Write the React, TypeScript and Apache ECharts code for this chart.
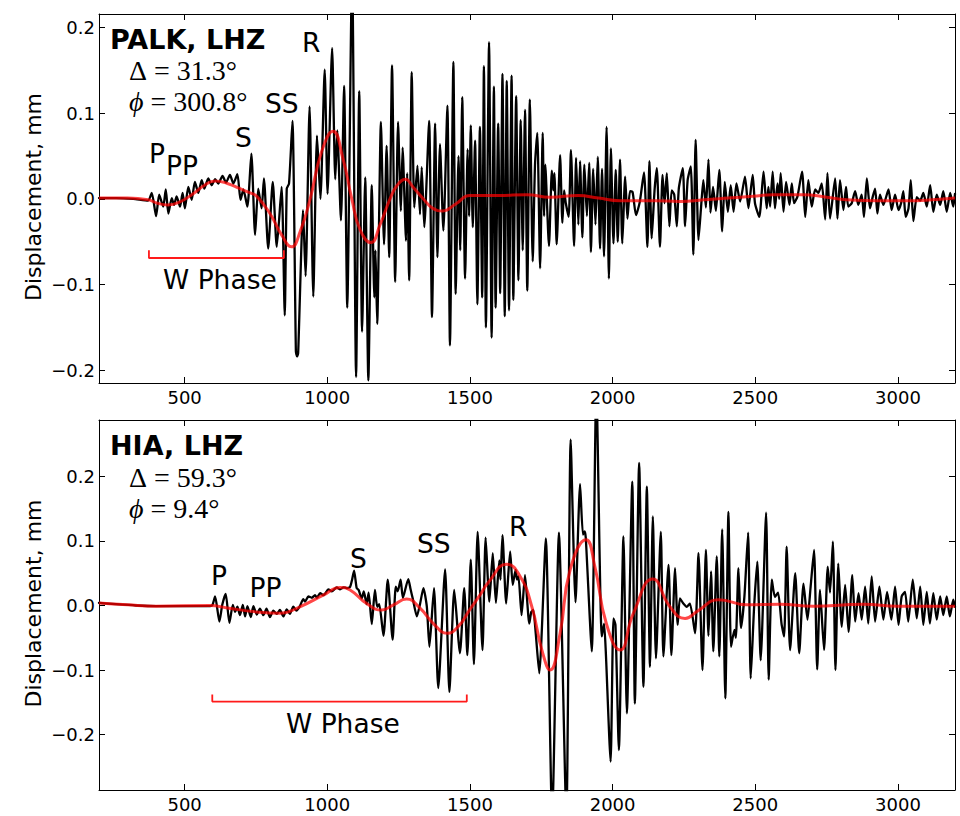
import React, { useEffect, useRef } from 'react';
import * as echarts from 'echarts';

const xTicks = [500, 1000, 1500, 2000, 2500, 3000];
const yTicks = [-0.2, -0.1, 0, 0.1, 0.2];

// PALK, LHZ : broadband displacement (time s, mm)
const palkTrace: [number, number][] = [
  [200,0.001],[260,0.001],[320,0.000],[372,-0.002],[385,0.007],[400,-0.020],[411,0.005],[425,-0.009],[434,0.011],[443,-0.017],[455,0.001],[463,-0.007],[472,0.003],[484,-0.009],[493,0.007],[501,-0.011],[513,0.014],[525,-0.001],[536,0.020],[548,0.007],[560,0.022],[569,0.012],[583,0.024],[595,0.016],[607,0.023],[618,0.018],[633,0.027],[645,0.019],[659,0.028],[671,0.018],[685,0.029],[696,-0.001],[706,0.011],[720,-0.009],[734,0.053],[747,-0.042],[758,0.012],[770,-0.011],[778,0.024],[793,-0.058],[809,0.020],[823,-0.056],[840,0.014],[851,-0.136],[858,0.012],[866,0.018],[878,0.091],[890,-0.178],[894,-0.184],[898,-0.180],[915,-0.013],[924,-0.090],[938,0.108],[951,-0.114],[964,0.074],[976,0.000],[991,0.151],[1001,0.006],[1017,0.176],[1028,0.023],[1035,0.080],[1048,-0.025],[1059,0.132],[1070,-0.127],[1087,0.270],[1101,-0.208],[1112,0.126],[1122,-0.155],[1133,0.025],[1144,-0.212],[1156,0.016],[1165,-0.115],[1169,-0.060],[1175,-0.146],[1188,0.090],[1199,-0.053],[1208,0.062],[1217,-0.068],[1227,0.156],[1238,-0.097],[1248,0.090],[1258,-0.014],[1264,0.060],[1276,-0.049],[1280,0.030],[1287,-0.095],[1296,0.148],[1305,-0.010],[1316,0.039],[1325,-0.018],[1331,0.037],[1340,-0.033],[1357,0.091],[1367,-0.138],[1378,0.088],[1386,-0.068],[1395,0.064],[1407,-0.037],[1421,0.109],[1430,-0.171],[1442,0.160],[1450,-0.111],[1460,0.050],[1466,-0.060],[1473,0.119],[1483,-0.093],[1492,0.058],[1497,-0.020],[1503,0.086],[1510,-0.033],[1518,0.068],[1526,-0.123],[1535,0.084],[1543,-0.115],[1549,0.155],[1556,-0.150],[1567,0.183],[1576,-0.162],[1584,0.131],[1590,-0.127],[1599,0.088],[1606,-0.110],[1614,0.146],[1622,-0.137],[1629,0.138],[1637,-0.130],[1646,0.144],[1652,-0.118],[1662,0.120],[1670,-0.095],[1678,0.092],[1685,-0.060],[1693,0.104],[1701,-0.107],[1710,0.116],[1720,-0.073],[1728,0.040],[1736,0.077],[1746,-0.081],[1755,0.077],[1760,-0.020],[1764,0.040],[1777,-0.055],[1787,0.033],[1792,0.010],[1796,0.030],[1804,-0.053],[1816,0.051],[1824,-0.028],[1830,0.010],[1836,-0.005],[1846,-0.021],[1854,0.057],[1865,-0.055],[1872,0.048],[1880,-0.030],[1886,0.044],[1894,-0.045],[1901,0.040],[1910,-0.020],[1918,0.042],[1924,-0.062],[1932,0.035],[1940,-0.030],[1948,0.049],[1956,-0.058],[1963,0.035],[1970,-0.067],[1979,0.084],[1987,-0.093],[1994,0.059],[2003,-0.052],[2011,0.034],[2018,-0.050],[2026,0.046],[2034,-0.052],[2044,0.026],[2052,-0.023],[2061,0.009],[2070,0.008],[2082,-0.019],[2095,-0.004],[2110,0.031],[2122,-0.056],[2129,0.044],[2137,-0.046],[2147,0.010],[2155,0.036],[2166,-0.056],[2175,0.028],[2182,-0.005],[2190,0.030],[2199,-0.032],[2207,0.010],[2216,0.005],[2225,-0.032],[2232,0.012],[2246,0.036],[2254,-0.032],[2263,0.022],[2274,0.038],[2283,-0.065],[2291,0.069],[2301,-0.048],[2310,-0.010],[2318,0.022],[2327,-0.010],[2336,0.046],[2343,-0.016],[2352,0.014],[2362,-0.014],[2374,0.034],[2384,-0.038],[2393,0.020],[2404,-0.015],[2414,0.016],[2424,-0.015],[2434,0.018],[2447,-0.003],[2464,0.026],[2476,-0.011],[2491,0.028],[2499,-0.005],[2514,-0.021],[2529,0.032],[2540,-0.011],[2546,0.014],[2552,-0.009],[2561,0.032],[2569,-0.011],[2578,0.018],[2584,0.000],[2589,0.030],[2599,-0.015],[2608,0.020],[2620,-0.007],[2628,0.018],[2636,-0.005],[2648,0.003],[2664,0.032],[2675,-0.021],[2686,0.022],[2698,-0.009],[2710,0.011],[2721,0.007],[2733,0.018],[2745,-0.024],[2753,0.030],[2762,-0.023],[2780,0.024],[2788,-0.023],[2797,0.022],[2809,-0.013],[2818,0.014],[2826,-0.009],[2838,-0.005],[2850,0.009],[2861,-0.007],[2873,0.005],[2881,-0.021],[2891,0.024],[2902,-0.011],[2912,0.003],[2920,0.012],[2928,-0.017],[2937,0.005],[2949,-0.007],[2967,0.011],[2978,-0.013],[2990,0.005],[3002,-0.013],[3011,-0.005],[3019,0.009],[3027,-0.021],[3037,-0.011],[3045,0.022],[3054,-0.026],[3066,0.002],[3078,-0.002],[3089,0.007],[3101,-0.009],[3113,0.016],[3124,-0.015],[3136,0.005],[3148,-0.007],[3159,0.009],[3171,-0.015],[3183,0.007],[3194,-0.009],[3200,0.006]
];

// PALK, LHZ : W-phase filtered trace
const palkWPhase: [number, number][] = [
  [200,0.001],[300,0.001],[372,-0.001],[405,-0.005],[440,-0.007],[480,-0.004],[530,0.006],[570,0.016],[607,0.021],[650,0.018],[694,0.012],[730,0.007],[753,0.003],[799,-0.017],[840,-0.042],[875,-0.056],[905,-0.038],[940,0.000],[980,0.055],[1020,0.079],[1055,0.047],[1086,0.000],[1115,-0.036],[1153,-0.051],[1185,-0.030],[1220,0.000],[1245,0.016],[1274,0.023],[1300,0.014],[1337,0.000],[1370,-0.011],[1405,-0.014],[1450,-0.006],[1500,0.004],[1600,0.004],[1700,0.005],[1781,0.002],[1880,0.004],[1950,0.001],[2026,-0.002],[2150,-0.002],[2237,-0.003],[2320,-0.001],[2405,0.001],[2490,0.003],[2563,0.005],[2669,0.005],[2750,0.002],[2820,-0.001],[2930,-0.002],[3031,-0.002],[3120,-0.001],[3200,0.001]
];

const palkWindow: [number, number][] = [[375,-0.060],[375,-0.069],[848,-0.069],[848,-0.060]];

// HIA, LHZ : broadband displacement (time s, mm)
const hiaTrace: [number, number][] = [
  [200,0.004],[260,0.002],[330,0.000],[400,-0.001],[500,-0.001],[590,-0.001],[598,0.001],[607,0.014],[622,-0.025],[632,0.001],[644,0.018],[657,-0.027],[669,0.001],[677,-0.010],[685,-0.002],[694,-0.015],[704,0.001],[712,-0.017],[720,-0.001],[732,-0.018],[741,-0.001],[753,-0.014],[764,-0.005],[776,-0.015],[787,-0.005],[799,-0.018],[811,-0.008],[823,-0.013],[834,-0.007],[846,-0.017],[858,-0.006],[869,-0.013],[881,-0.002],[892,-0.008],[904,-0.001],[916,0.010],[922,0.006],[934,0.014],[946,0.012],[957,0.016],[964,0.012],[975,0.019],[987,0.016],[1004,0.025],[1016,0.022],[1033,0.028],[1045,0.025],[1057,0.028],[1068,0.027],[1080,0.029],[1087,0.040],[1094,0.054],[1103,0.027],[1110,0.024],[1121,0.011],[1128,0.022],[1138,0.002],[1145,0.020],[1156,-0.029],[1167,0.024],[1175,-0.002],[1182,0.002],[1197,-0.047],[1212,0.040],[1229,-0.053],[1240,0.029],[1247,0.022],[1257,0.040],[1265,0.012],[1284,0.041],[1292,0.025],[1300,0.010],[1314,-0.017],[1325,0.002],[1337,0.027],[1349,-0.002],[1358,-0.064],[1374,0.027],[1389,-0.128],[1413,0.056],[1428,-0.134],[1445,0.024],[1465,-0.074],[1480,0.027],[1491,-0.077],[1503,0.071],[1514,-0.091],[1527,0.114],[1544,-0.069],[1555,0.105],[1568,0.006],[1580,0.081],[1591,0.004],[1603,0.070],[1607,0.040],[1614,0.109],[1627,0.003],[1641,0.084],[1650,0.032],[1660,0.055],[1665,0.040],[1670,0.045],[1681,-0.015],[1693,0.047],[1708,-0.028],[1715,-0.010],[1722,-0.007],[1730,-0.040],[1743,-0.105],[1766,0.104],[1788,-0.330],[1812,0.113],[1838,-0.330],[1853,0.257],[1870,0.005],[1886,0.188],[1896,0.110],[1902,0.115],[1906,0.105],[1927,-0.071],[1943,0.340],[1962,-0.048],[1970,-0.028],[1976,-0.070],[1993,-0.242],[2003,-0.020],[2010,-0.030],[2022,-0.224],[2038,0.107],[2050,-0.167],[2069,0.192],[2078,-0.152],[2093,0.221],[2108,-0.126],[2120,0.184],[2131,-0.095],[2141,0.138],[2152,-0.082],[2169,0.114],[2178,-0.079],[2196,0.063],[2206,-0.077],[2219,0.058],[2228,-0.030],[2236,0.011],[2248,0.003],[2260,-0.002],[2271,0.003],[2289,-0.043],[2301,0.081],[2315,-0.100],[2327,0.086],[2336,-0.047],[2345,0.053],[2353,-0.071],[2365,0.076],[2374,-0.079],[2384,0.118],[2395,-0.144],[2406,0.145],[2415,-0.064],[2427,-0.038],[2432,-0.050],[2441,0.058],[2450,-0.035],[2462,0.014],[2475,0.113],[2484,-0.113],[2496,-0.002],[2507,0.068],[2519,-0.085],[2538,0.144],[2547,-0.115],[2558,0.040],[2569,0.013],[2580,0.020],[2592,-0.028],[2601,-0.048],[2610,0.091],[2622,-0.069],[2640,0.050],[2654,-0.074],[2669,0.034],[2683,-0.022],[2694,0.029],[2706,0.086],[2717,-0.099],[2727,0.024],[2741,-0.069],[2754,0.060],[2762,0.020],[2772,0.099],[2781,-0.100],[2791,0.065],[2803,-0.033],[2815,0.032],[2827,-0.041],[2840,0.047],[2850,-0.025],[2862,0.019],[2873,-0.022],[2885,0.029],[2896,-0.028],[2908,0.045],[2920,-0.025],[2935,0.029],[2949,-0.022],[2962,0.021],[2977,-0.022],[2990,0.029],[3002,-0.030],[3013,0.014],[3025,0.021],[3036,-0.025],[3052,0.040],[3066,-0.020],[3078,0.029],[3089,-0.030],[3101,0.021],[3112,-0.028],[3124,0.019],[3136,-0.022],[3148,0.014],[3159,-0.015],[3171,0.014],[3182,-0.017],[3194,0.009],[3200,-0.002]
];

// HIA, LHZ : W-phase filtered trace
const hiaWPhase: [number, number][] = [
  [200,0.004],[300,0.001],[400,-0.001],[590,0.000],[650,-0.004],[753,-0.010],[834,-0.012],[904,-0.002],[986,0.016],[1045,0.028],[1080,0.024],[1138,0.003],[1191,-0.007],[1232,0.001],[1278,0.010],[1325,-0.004],[1372,-0.028],[1420,-0.043],[1460,-0.032],[1500,-0.006],[1535,0.016],[1565,0.036],[1629,0.064],[1676,0.045],[1717,-0.002],[1752,-0.069],[1781,-0.100],[1816,-0.043],[1851,0.055],[1907,0.102],[1938,0.060],[1978,-0.028],[2026,-0.069],[2073,-0.012],[2141,0.041],[2201,-0.002],[2254,-0.020],[2300,-0.008],[2371,0.009],[2470,0.001],[2587,0.002],[2703,-0.001],[2879,0.002],[3000,-0.001],[3200,-0.001]
];

const hiaWindow: [number, number][] = [[597,-0.138],[597,-0.149],[1489,-0.149],[1489,-0.138]];

const fmtY = (v: number) => {
  const s = Math.abs(v).toFixed(1);
  return v < -1e-9 ? '\u2212' + s : s;
};
const fmtX = (v: number) => String(Math.round(v));

const SANS = 'DejaVu Sans';
const SERIF = 'Liberation Serif';

function xAxisDef(grid: number, mirror: boolean) {
  return {
    type: 'value', gridIndex: grid, min: 200, max: 3200,
    position: mirror ? 'top' : 'bottom',
    axisLine: { show: true, onZero: false, lineStyle: { color: '#000', width: 1 } },
    axisTick: { show: true, inside: true, length: 6, customValues: xTicks, lineStyle: { color: '#000', width: 1 } },
    axisLabel: { show: !mirror, customValues: xTicks, formatter: fmtX, color: '#000', fontSize: 18, fontFamily: SANS, margin: 5 },
    splitLine: { show: false },
  };
}

function yAxisDef(grid: number, mirror: boolean, min: number, max: number) {
  return {
    type: 'value', gridIndex: grid, min, max,
    position: mirror ? 'right' : 'left',
    axisLine: { show: true, onZero: false, lineStyle: { color: '#000', width: 1 } },
    axisTick: { show: true, inside: true, length: 6, customValues: yTicks, lineStyle: { color: '#000', width: 1 } },
    axisLabel: { show: !mirror, customValues: yTicks, formatter: fmtY, color: '#000', fontSize: 18, fontFamily: SANS, margin: 4 },
    splitLine: { show: false },
  };
}

function traceSeries(data: [number, number][], xi: number, yi: number) {
  return {
    type: 'line', xAxisIndex: xi, yAxisIndex: yi, data, symbol: 'none', showSymbol: false, smooth: 0.2,
    lineStyle: { color: '#000', width: 2.3, join: 'round', cap: 'round' }, z: 2, clip: true, silent: true,
  };
}
function wSeries(data: [number, number][], xi: number, yi: number) {
  return {
    type: 'line', xAxisIndex: xi, yAxisIndex: yi, data, symbol: 'none', showSymbol: false, smooth: 0.5,
    lineStyle: { color: 'rgba(255,0,0,0.72)', width: 3 }, z: 3, clip: true, silent: true,
  };
}
function windowSeries(data: [number, number][], xi: number, yi: number) {
  return {
    type: 'line', xAxisIndex: xi, yAxisIndex: yi, data, symbol: 'none', showSymbol: false,
    lineStyle: { color: '#ff1a1a', width: 1.8 }, z: 4, clip: true, silent: true,
  };
}

function label(text: string, x: number, y: number, size = 26.5, weight: any = 'normal') {
  return {
    type: 'text', x, y, silent: true, z: 10,
    style: { text, fill: '#000', font: `${weight} ${size}px "${SANS}"`, textAlign: 'left', textVerticalAlign: 'middle' },
  };
}
function mathLabel(sym: string, rest: string, italic: boolean, x: number, y: number) {
  return {
    type: 'text', x, y, silent: true, z: 10,
    style: {
      text: `{s|${sym}}{r|${rest}}`, textAlign: 'left', textVerticalAlign: 'middle',
      rich: {
        s: { fontFamily: SERIF, fontSize: 28, fontStyle: italic ? 'italic' : 'normal', fill: '#000' },
        r: { fontFamily: SERIF, fontSize: 28, fill: '#000' },
      },
    },
  };
}
function yName(x: number, y: number) {
  return {
    type: 'text', x, y, rotation: Math.PI / 2, silent: true, z: 10,
    style: { text: 'Displacement, mm', fill: '#000', font: `22px "${SANS}"`, textAlign: 'center', textVerticalAlign: 'middle' },
  };
}

const option: any = {
  animation: false,
  backgroundColor: '#fff',
  grid: [
    { left: 99, top: 14, width: 856, height: 369, show: false },
    { left: 99, top: 420, width: 856, height: 370, show: false },
  ],
  xAxis: [xAxisDef(0, false), xAxisDef(1, false), xAxisDef(0, true), xAxisDef(1, true)],
  yAxis: [
    yAxisDef(0, false, -0.215, 0.216), yAxisDef(1, false, -0.286, 0.2875),
    yAxisDef(0, true, -0.215, 0.216), yAxisDef(1, true, -0.286, 0.2875),
  ],
  series: [
    traceSeries(palkTrace, 0, 0), wSeries(palkWPhase, 0, 0), windowSeries(palkWindow, 0, 0),
    traceSeries(hiaTrace, 1, 1), wSeries(hiaWPhase, 1, 1), windowSeries(hiaWindow, 1, 1),
  ],
  graphic: [
    yName(33, 197), yName(33, 603.5),
    label('PALK, LHZ', 110, 39.5, 27, 'bold'),
    mathLabel('\u0394', ' = 31.3\u00b0', false, 129, 70.5),
    mathLabel('\u03d5', ' = 300.8\u00b0', true, 129, 101),
    label('P', 149, 153.3), label('PP', 166, 165.5), label('S', 235, 137.5),
    label('SS', 265, 103), label('R', 302, 42), label('W Phase', 163, 279),
    label('HIA, LHZ', 110, 445.7, 27, 'bold'),
    mathLabel('\u0394', ' = 59.3\u00b0', false, 129, 477),
    mathLabel('\u03d5', ' = 9.4\u00b0', true, 129, 508),
    label('P', 211, 575.5), label('PP', 249.5, 587.5), label('S', 350, 558),
    label('SS', 417, 543.3), label('R', 509, 526), label('W Phase', 286, 723),
  ],
};

export default function App() {
  const ref = useRef<HTMLDivElement>(null);
  useEffect(() => {
    if (!ref.current) return;
    const chart = echarts.init(ref.current, null, { renderer: 'svg' });
    chart.setOption(option);
    return () => chart.dispose();
  }, []);
  return (
    <div
      ref={ref}
      style={{ position: 'fixed', left: 0, top: 0, width: 960, height: 816, background: '#fff' }}
    />
  );
}
